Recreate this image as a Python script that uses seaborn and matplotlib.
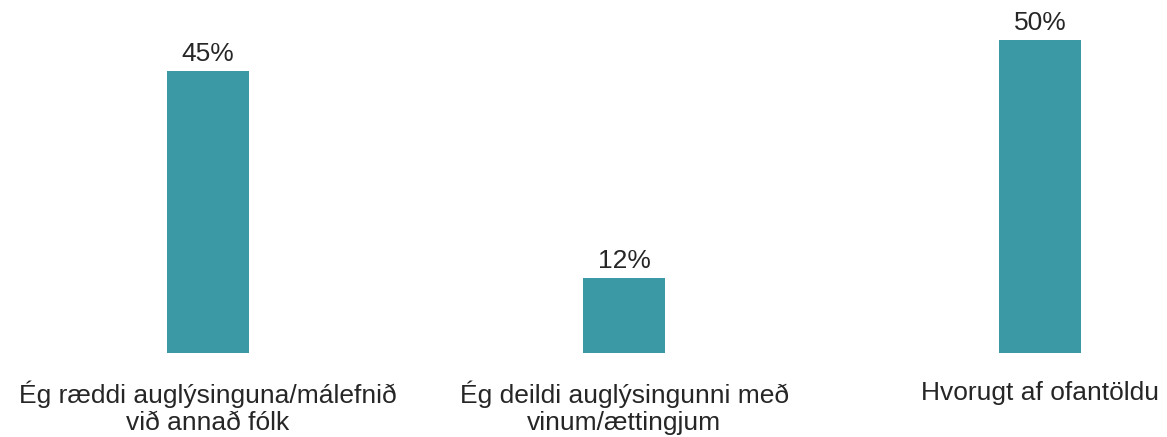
import pandas as pd
import seaborn as sns
import matplotlib.pyplot as plt

categories = [
    "Ég ræddi auglýsinguna/málefnið\nvið annað fólk",
    "Ég deildi auglýsingunni með\nvinum/ættingjum",
    "Hvorugt af ofantöldu",
]
values = [45, 12, 50]

df = pd.DataFrame({"category": categories, "value": values})

sns.set_theme(style="white")
plt.rcParams["font.family"] = ["Liberation Sans", "DejaVu Sans"]

fig = plt.figure(figsize=(11.67, 4.37), dpi=100)
ax = fig.add_axes([0, 0.1922, 1, 0.8078])

sns.barplot(data=df, x="category", y="value", color="#3a99a5", width=0.197,
            saturation=1, linewidth=0, ax=ax)

for i, v in enumerate(values):
    ax.text(i, v + 0.8, f"{v}%", ha="center", va="bottom", fontsize=19,
            color="#262626")

ax.set_xlim(-0.5, 2.305)
ax.set_ylim(0, 56.4)
ax.set_yticks([])
ax.set_xlabel(None)
ax.set_ylabel(None)
ax.tick_params(axis="x", length=0, pad=20, labelsize=19, labelcolor="#262626")
for t in ax.get_xticklabels():
    t.set_linespacing(1.12)
for s in ax.spines.values():
    s.set_visible(False)

plt.savefig("out.png", dpi=100)
